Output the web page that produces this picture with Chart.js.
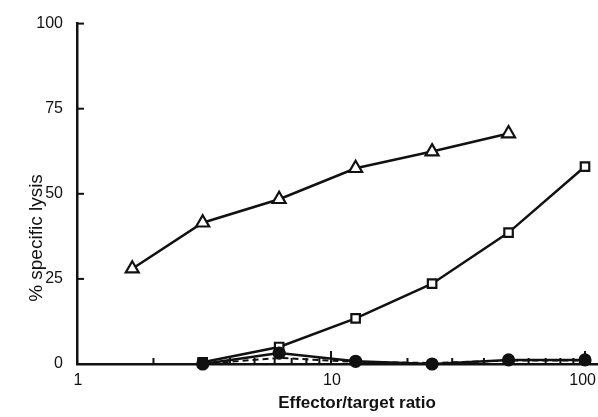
<!DOCTYPE html>
<html>
<head>
<meta charset="utf-8">
<script src="https://cdn.jsdelivr.net/npm/chart.js@4"></script>
<style>
  html, body { margin: 0; padding: 0; background: #fff; }
  #wrap { width: 598px; height: 417px; }
</style>
</head>
<body>
<div id="wrap"><canvas id="lysisChart" width="598" height="417"></canvas></div>
<script>
// ============================================================
// DATA
// ============================================================
const TRIANGLE_X = [1.65, 3.125, 6.25, 12.5, 25, 50];
const TRIANGLE_Y = [28, 41.5, 48.4, 57.5, 62.4, 67.7];

const SQUARE_X = [3.125, 6.25, 12.5, 25, 50, 100];
const SQUARE_Y = [0.5, 5, 13.4, 23.6, 38.6, 58];

const CIRCLE_X = [3.125, 6.25, 12.5, 25, 50, 100];
const CIRCLE_Y = [0, 3.2, 0.8, 0, 1.2, 1.2];

const DASHED_X = [3.125, 6.25, 12.5, 25, 50, 100];
const DASHED_Y = [0, 1.8, 0.6, 0.3, 1.0, 1.0];

const X_LABELS = [1, 10, 100];
const Y_TICKS = [0, 25, 50, 75, 100];
const X_MINOR = [2, 3, 4, 5, 6, 7, 8, 9, 20, 30, 40, 50, 60, 70, 80, 90];
const X_MAJOR = [10, 100];

const INK = '#111';
const FONT = '"Liberation Sans", Arial, sans-serif';

function pts(xs, ys) {
  return xs.map((x, i) => ({ x, y: ys[i] }));
}

// ============================================================
// PLUGIN — inward tick marks, x tick labels and the axis titles
// ============================================================
const axisDecor = {
  id: 'axisDecor',
  afterDatasetsDraw(chart) {
    const { ctx, chartArea, scales } = chart;
    const xs = scales.x, ys = scales.y;
    ctx.save();
    ctx.strokeStyle = INK;
    ctx.lineWidth = 2;
    X_MINOR.forEach(v => {
      const px = xs.getPixelForValue(v);
      ctx.beginPath();
      ctx.moveTo(px, chartArea.bottom);
      ctx.lineTo(px, chartArea.bottom - 6);
      ctx.stroke();
    });
    X_MAJOR.forEach(v => {
      const px = xs.getPixelForValue(v);
      ctx.beginPath();
      ctx.moveTo(px, chartArea.bottom);
      ctx.lineTo(px, chartArea.bottom - 13);
      ctx.stroke();
    });
    Y_TICKS.slice(1).forEach(v => {
      const py = ys.getPixelForValue(v);
      ctx.beginPath();
      ctx.moveTo(chartArea.left, py);
      ctx.lineTo(chartArea.left + 7, py);
      ctx.stroke();
    });

    ctx.fillStyle = INK;
    ctx.textAlign = 'center';
    ctx.textBaseline = 'middle';

    // x tick labels, kept inside the canvas on the right
    ctx.font = `16px ${FONT}`;
    X_LABELS.forEach(v => {
      const label = String(v);
      const half = ctx.measureText(label).width / 2;
      const px = Math.min(xs.getPixelForValue(v) + 1, chart.width - half - 2);
      ctx.fillText(label, px, chartArea.bottom + 17);
    });

    // axis titles
    ctx.font = `bold 17px ${FONT}`;
    ctx.fillText('Effector/target ratio', 357, 403);
    ctx.translate(37, 238);
    ctx.rotate(-Math.PI / 2);
    ctx.font = `19px ${FONT}`;
    ctx.fillText('% specific lysis', 0, 0);
    ctx.restore();
  }
};

// ============================================================
// CHART
// ============================================================
const lineStyle = {
  borderColor: INK,
  borderWidth: 2.5,
  pointBorderColor: INK,
  pointBorderWidth: 2.2,
  tension: 0,
  clip: false
};

new Chart(document.getElementById('lysisChart'), {
  type: 'line',
  data: {
    datasets: [
      {
        ...lineStyle,
        label: 'dashed',
        data: pts(DASHED_X, DASHED_Y),
        borderDash: [6, 4],
        borderWidth: 2,
        pointRadius: 0
      },
      {
        ...lineStyle,
        label: 'circles',
        data: pts(CIRCLE_X, CIRCLE_Y),
        pointStyle: 'circle',
        pointRadius: 5.5,
        pointBackgroundColor: INK
      },
      {
        ...lineStyle,
        label: 'squares',
        data: pts(SQUARE_X, SQUARE_Y),
        pointStyle: 'rect',
        pointRadius: 6,
        pointBackgroundColor: '#fff'
      },
      {
        ...lineStyle,
        label: 'triangles',
        data: pts(TRIANGLE_X, TRIANGLE_Y),
        pointStyle: 'triangle',
        pointRadius: 7.5,
        pointBackgroundColor: '#fff'
      }
    ]
  },
  options: {
    responsive: false,
    animation: false,
    layout: { autoPadding: false, padding: { top: 21, right: 0, left: 0, bottom: 0 } },
    plugins: {
      legend: { display: false },
      tooltip: { enabled: false }
    },
    scales: {
      x: {
        type: 'logarithmic',
        min: 1,
        max: 112.5,
        afterFit(scale) {
          scale.height = 53;
        },
        grid: { drawOnChartArea: false, drawTicks: false },
        border: { color: INK, width: 2.5 },
        ticks: { display: false },
        afterBuildTicks(scale) {
          scale.ticks = X_LABELS.map(v => ({ value: v }));
        }
      },
      y: {
        min: 0,
        max: 100,
        afterFit(scale) {
          scale.width = 77;
        },
        grid: { drawOnChartArea: false, drawTicks: false },
        border: { color: INK, width: 2.5 },
        ticks: {
          color: INK,
          font: { family: FONT, size: 16 },
          padding: 14
        },
        afterBuildTicks(scale) {
          scale.ticks = Y_TICKS.map(v => ({ value: v }));
        }
      }
    }
  },
  plugins: [axisDecor]
});
</script>
</body>
</html>
